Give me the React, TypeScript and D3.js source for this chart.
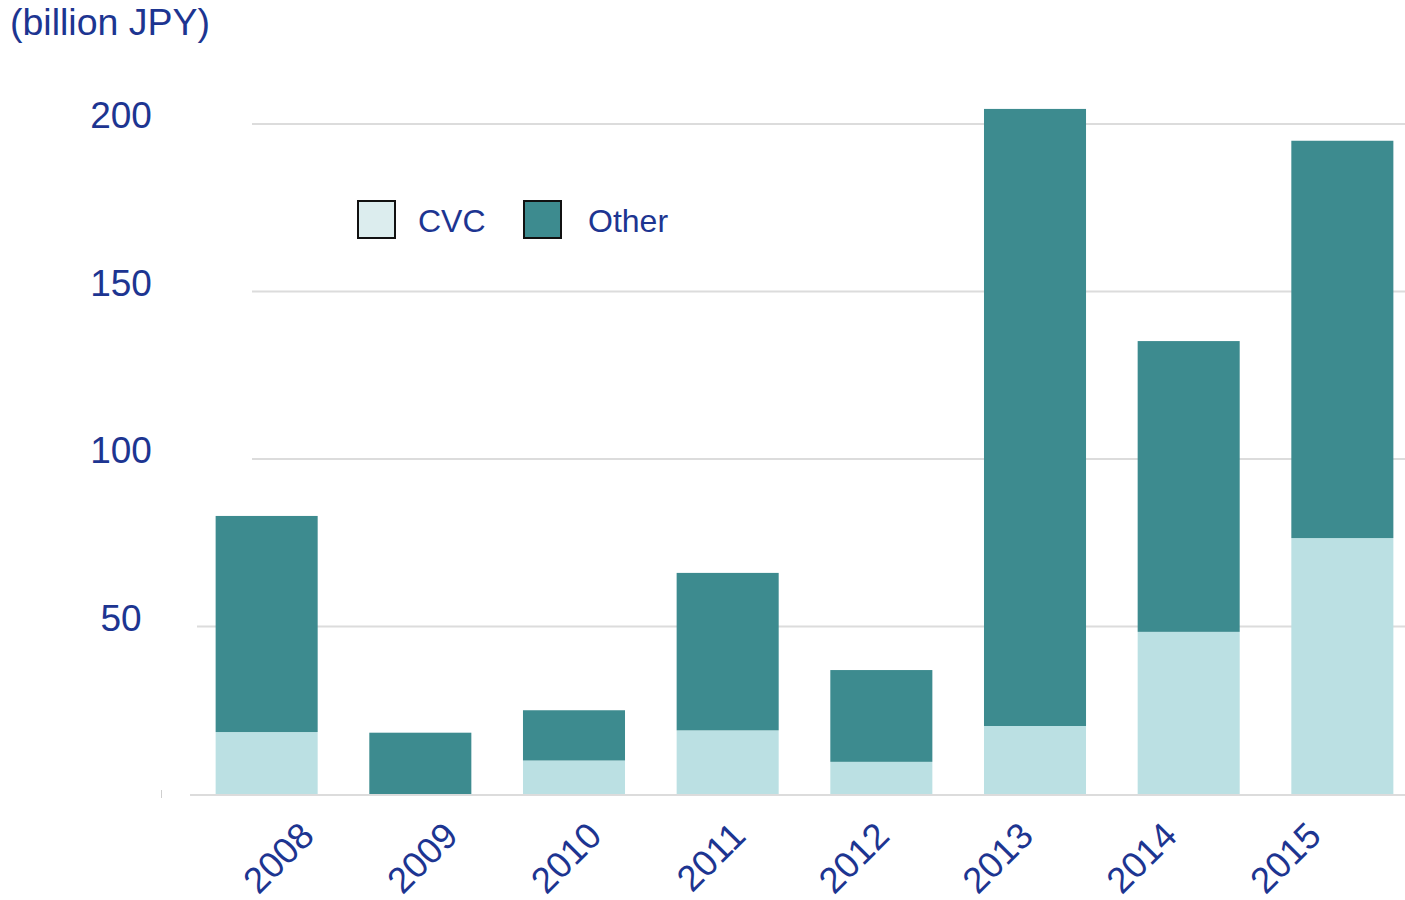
import React from "react";
import * as d3 from "d3";

// values in billion JPY
const years = ["2008", "2009", "2010", "2011", "2012", "2013", "2014", "2015"];
const cvc = [18.5, 0, 10, 19, 9.6, 20.3, 48.4, 76.4];
const other = [64.5, 18.3, 15, 47, 27.4, 184.2, 86.8, 118.6];
const yTicks = [50, 100, 150, 200];
const legendItems = ["CVC", "Other"];

const W = 1405;
const H = 900;
const FONT = "'Liberation Sans', Arial, Helvetica, sans-serif";
const TEXT = "#1d3591";
const OTHER_COLOR = "#3d8b8f";
const CVC_COLOR = "#bbe0e3";

export default function App() {
    var x = d3.scaleBand().domain(years).range([164, 1445]).padding(0.336);
    // the rotated labels don't sit exactly under the bars in the original
    var xLabel = d3.scalePoint().domain(years).range([316, 1323]);
    var y = d3.scaleLinear().domain([0, 200]).range([794, 124]);

    var rows = years.map((yr, i) => ({ year: yr, CVC: cvc[i], Other: other[i] }));
    var stacked = d3.stack().keys(legendItems)(rows);
    var colors = d3.scaleOrdinal().domain(legendItems).range([CVC_COLOR, OTHER_COLOR]);

    return (
        <svg
            width={W}
            height={H}
            style={{ position: "absolute", left: 0, top: 0, background: "#fff" }}
            fontFamily={FONT}
        >
            <text x={10} y={35} fontSize={37.5} fill={TEXT}>
                (billion JPY)
            </text>

            {/* grid */}
            {yTicks.map((t) => (
                <g key={t}>
                    <line
                        x1={t === 50 ? 197 : 252}
                        x2={W}
                        y1={y(t)}
                        y2={y(t)}
                        stroke="#dcdcdc"
                        strokeWidth={2}
                    />
                    <text
                        x={121}
                        y={y(t) + 4}
                        fontSize={37}
                        fill={TEXT}
                        textAnchor="middle"
                    >
                        {t}
                    </text>
                </g>
            ))}
            <line x1={190} x2={W} y1={y(0) + 1} y2={y(0) + 1} stroke="#dcdcdc" strokeWidth={2} />
            <line x1={161.5} x2={161.5} y1={790} y2={798} stroke="#cfcfcf" strokeWidth={1} />

            {/* bars */}
            {stacked.map((layer) => (
                <g key={layer.key} fill={colors(layer.key)}>
                    {layer.map((d, i) => (
                        <rect
                            key={i}
                            x={x(d.data.year)}
                            width={x.bandwidth()}
                            y={y(d[1])}
                            height={Math.max(0, y(d[0]) - y(d[1]))}
                        />
                    ))}
                </g>
            ))}

            {/* x labels */}
            {years.map((yr) => (
                <text
                    key={yr}
                    transform={`translate(${xLabel(yr)},838) rotate(-45)`}
                    textAnchor="end"
                    fontSize={36.5}
                    fill={TEXT}
                >
                    {yr}
                </text>
            ))}

            {/* legend */}
            {legendItems.map((k, i) => (
                <g key={k} transform={`translate(${358 + i * 166},201)`}>
                    <rect
                        width={37}
                        height={37}
                        fill={k === "CVC" ? "#dcedee" : OTHER_COLOR}
                        stroke="#111"
                        strokeWidth={2}
                    />
                    <text x={i === 0 ? 60 : 64} y={31} fontSize={32} fill={TEXT}>
                        {k}
                    </text>
                </g>
            ))}
        </svg>
    );
}
